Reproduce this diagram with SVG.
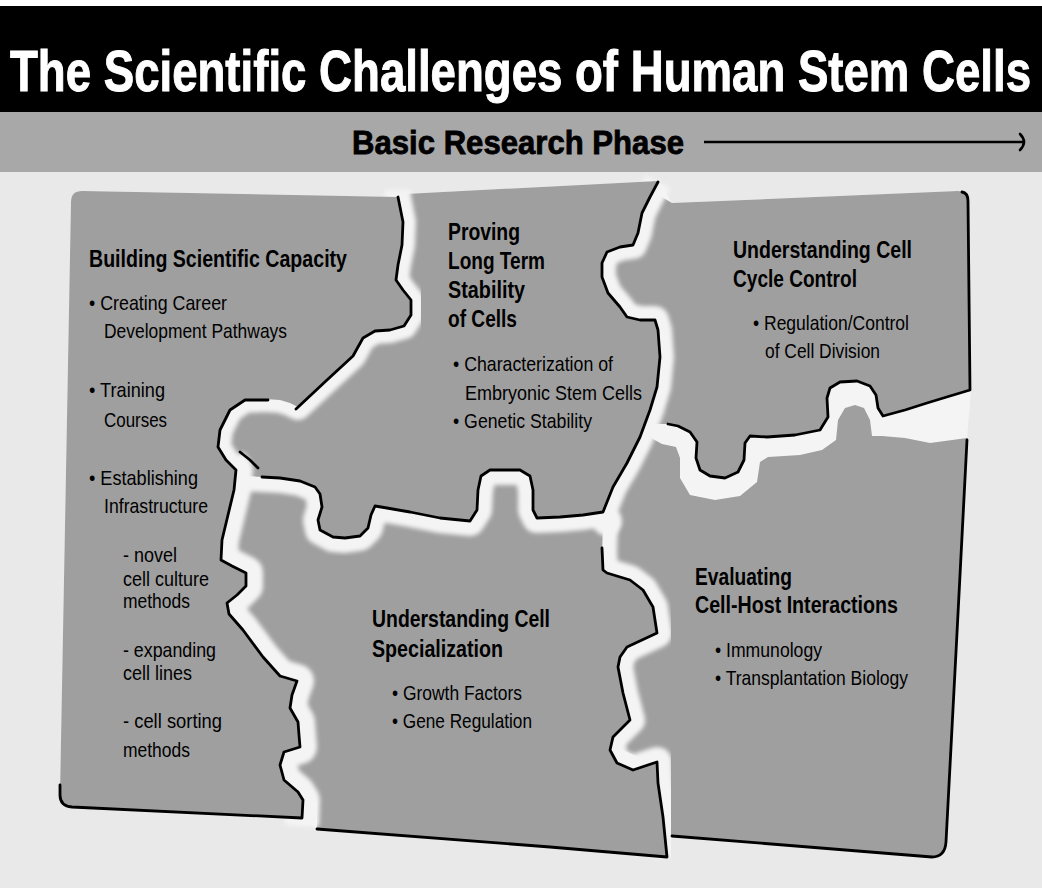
<svg xmlns="http://www.w3.org/2000/svg" width="1042" height="888" viewBox="0 0 1042 888">
<style>
.h{font-family:"Liberation Sans",Arial,sans-serif;font-weight:bold;font-size:23px;fill:#000}
.b{font-family:"Liberation Sans",Arial,sans-serif;font-size:21px;fill:#000}
.tile{fill:#9f9f9f}
.band{fill:none;stroke:#f4f4f4;stroke-linejoin:round;stroke-linecap:butt}
.edge{fill:none;stroke:#000;stroke-width:2.8;stroke-linejoin:round;stroke-linecap:round}
</style>
<defs>
<filter id="soft" x="-5%" y="-5%" width="110%" height="110%"><feGaussianBlur stdDeviation="2.2"/></filter>
</defs>
<rect x="0" y="0" width="1042" height="888" fill="#e9e9e9"/>
<rect x="0" y="0" width="1042" height="6" fill="#ffffff"/>
<rect x="0" y="6" width="1042" height="106" fill="#000"/>
<rect x="0" y="112" width="1042" height="60" fill="#a8a8a8"/>
<text transform="translate(10,91) scale(0.8,1)" x="0" y="0" style="font-family:'Liberation Sans',Arial,sans-serif;font-weight:bold;font-size:57px;fill:#fff;stroke:#fff;stroke-width:1">The Scientific Challenges of Human Stem Cells</text>
<text x="352" y="154" textLength="332" lengthAdjust="spacingAndGlyphs" style="font-family:'Liberation Sans',Arial,sans-serif;font-weight:bold;font-size:33px;fill:#000;stroke:#000;stroke-width:0.8">Basic Research Phase</text>
<g id="phase-arrow" fill="none" stroke="#000" stroke-width="2.6">
<path d="M704,142 L1024,142"/>
<path d="M1020,134 Q1028,142 1020,150" stroke-linecap="round"/>
</g>
<path id="board" d="M71,202 Q71,191 82,191 L398,197 L405,194 L658,181 L672,203 L958,191 Q968,191 968,201 L971,392 L967,438 L957,633 L946,842 Q945,857 932,857 L672,836 L667,857 L550,847 L317,829 L302,818 L72,807 Q60,806 60,795 Z" fill="#f4f4f4"/>

<g id="node-cell-host">
<path class="tile" d="M662,444 L676,447 L680,458 L680,478 L690,495 L715,500 L740,496 L757,482 L760,462 L768,457 L800,455 L822,450 L836,440 L838,420 L845,408 L855,405 L864,408 L870,420 L872,436 L882,436 L905,438 L930,443 L967,438 L957,633 L946,842 Q945,857 932,857 L672,836 L640,836 L640,800 L645,760 L600,740 L597,650 L625,620 L592,560 L595,520 L620,480 L640,432 Z"/>
<text class="h" x="695" y="585" textLength="97" lengthAdjust="spacingAndGlyphs">Evaluating</text>
<text class="h" x="695" y="613" textLength="203" lengthAdjust="spacingAndGlyphs">Cell-Host Interactions</text>
<text class="b" x="715" y="657" textLength="107" lengthAdjust="spacingAndGlyphs">• Immunology</text>
<text class="b" x="715" y="685" textLength="193" lengthAdjust="spacingAndGlyphs">• Transplantation Biology</text>
</g>

<g id="gap-de" filter="url(#soft)">
<path class="band" stroke-width="30" d="M603,520 L602,553 L603,570 L607,573 L630,580 L643,590 L653,607 L657,633 L627,647 L620,657 L618,667 L623,693 L630,720 L613,737 L610,750 L617,763 L633,770 L657,762 L658,783 L663,817 L667,857"/>
</g>

<g id="node-cell-cycle">
<path class="tile" d="M672,203 L958,191 Q968,191 968,201 L970,390 L950,396 L927,403 L905,410 L883,416 L878,408 L876,395 L870,386 L857,381 L840,382 L830,388 L827,398 L828,417 L820,430 L795,435 L767,437 L750,436 L745,443 L744,460 L738,472 L725,478 L710,476 L700,470 L696,458 L697,442 L690,432 L678,426 L668,424 L645,424 L650,330 L630,325 L598,290 L595,262 L615,243 L632,238 L640,205 L650,190 Z"/>
<text class="h" x="733" y="258" textLength="179" lengthAdjust="spacingAndGlyphs">Understanding Cell</text>
<text class="h" x="733" y="287" textLength="124" lengthAdjust="spacingAndGlyphs">Cycle Control</text>
<text class="b" x="753" y="330" textLength="156" lengthAdjust="spacingAndGlyphs">• Regulation/Control</text>
<text class="b" x="765" y="358" textLength="115" lengthAdjust="spacingAndGlyphs">of Cell Division</text>
</g>

<g id="node-specialization">
<path class="tile" d="M225,462 L600,462 L601,490 L603,527 L602,553 L603,570 L607,573 L630,580 L643,590 L653,607 L657,633 L627,647 L620,657 L618,667 L623,693 L630,720 L613,737 L610,750 L617,763 L633,770 L657,762 L658,783 L663,817 L667,857 L550,847 L317,829 L317,802 L290,800 L268,780 L268,752 L283,735 L278,705 L282,690 L255,670 L225,630 L212,605 L230,590 L212,570 L205,540 L210,500 L220,470 Z"/>
<text class="h" x="372" y="627" textLength="178" lengthAdjust="spacingAndGlyphs">Understanding Cell</text>
<text class="h" x="372" y="657" textLength="131" lengthAdjust="spacingAndGlyphs">Specialization</text>
<text class="b" x="392" y="700" textLength="130" lengthAdjust="spacingAndGlyphs">• Growth Factors</text>
<text class="b" x="392" y="728" textLength="140" lengthAdjust="spacingAndGlyphs">• Gene Regulation</text>
</g>

<g id="gap-bc-bd" filter="url(#soft)">
<path class="band" stroke-width="28" d="M658,182 L650,197 L642,213 L638,233 L633,245 L620,247 L607,252 L602,263 L602,277 L608,293 L620,307 L627,317 L640,320 L655,320 L658,330 L660,357 L657,387 L650,410 L640,437 L627,463 L613,487 L603,512"/>
<path class="band" stroke-width="30" d="M603,512 L583,515 L560,517 L537,518 L533,510 L533,490 L530,476 L520,470 L490,470 L481,476 L478,490 L477,510 L470,521 L440,518 L410,512 L387,508 L375,506 L371,515 L368,528 L360,536 L345,538 L333,537 L320,530 L318,520 L322,507 L320,494 L315,487 L300,481 L280,478 L262,477 L245,476"/>
<circle cx="607" cy="521" r="15" fill="#f4f4f4"/>
</g>

<g id="node-proving">
<path class="tile" d="M392,196 L405,194 L658,181 L650,197 L642,213 L638,233 L633,245 L620,247 L607,252 L602,263 L602,277 L608,293 L620,307 L627,317 L640,320 L655,320 L658,330 L660,357 L657,387 L650,410 L640,437 L627,463 L613,487 L603,512 L583,515 L560,517 L537,518 L533,510 L533,490 L530,476 L520,470 L490,470 L481,476 L478,490 L477,510 L470,521 L440,518 L410,512 L387,508 L375,506 L371,515 L368,528 L360,536 L345,538 L333,537 L320,530 L318,520 L322,507 L320,494 L315,487 L300,481 L280,478 L262,477 L248,476 L225,470 L210,440 L222,405 L250,392 L290,395 L345,350 L388,322 L390,280 Z"/>
<text class="h" x="448" y="240" textLength="72" lengthAdjust="spacingAndGlyphs">Proving</text>
<text class="h" x="448" y="269" textLength="97" lengthAdjust="spacingAndGlyphs">Long Term</text>
<text class="h" x="448" y="298" textLength="77" lengthAdjust="spacingAndGlyphs">Stability</text>
<text class="h" x="448" y="327" textLength="69" lengthAdjust="spacingAndGlyphs">of Cells</text>
<text class="b" x="453" y="371" textLength="160" lengthAdjust="spacingAndGlyphs">• Characterization of</text>
<text class="b" x="465" y="400" textLength="177" lengthAdjust="spacingAndGlyphs">Embryonic Stem Cells</text>
<text class="b" x="453" y="428" textLength="139" lengthAdjust="spacingAndGlyphs">• Genetic Stability</text>
</g>

<g id="gap-a" filter="url(#soft)">
<path class="band" stroke-width="26" d="M398,190 L398,197 L403,222 L402,245 L398,265 L396,280 L403,290 L411,300 L411,315 L404,326 L390,330 L375,331 L363,338 L353,356 L327,380 L298,407 L290,403 L280,400 L265,399 L245,400 L230,410 L220,430 L218,447 L226,460 L236,470"/>
<path class="band" stroke-width="34" d="M230,462 L236,470 L234,490 L228,515 L222,540 L221,560 L232,566 L246,573 L246,586 L237,595 L227,603 L229,614 L243,630 L263,657 L280,676 L297,681 L292,695 L290,708 L298,722 L299,735 L300,747 L284,752 L280,765 L284,780 L298,792 L303,800 L302,826"/>
</g>

<g id="node-building">
<path class="tile" d="M82,191 L398,197 L403,222 L402,245 L398,265 L396,280 L403,290 L411,300 L411,315 L404,326 L390,330 L375,331 L363,338 L353,356 L327,380 L298,407 L290,403 L280,400 L265,399 L245,400 L230,410 L220,430 L218,447 L226,460 L236,470 L234,490 L228,515 L222,540 L221,560 L232,566 L246,573 L246,586 L237,595 L227,603 L229,614 L243,630 L263,657 L280,676 L297,681 L292,695 L290,708 L298,722 L299,735 L300,747 L284,752 L280,765 L284,780 L298,792 L303,800 L302,818 L72,807 Q60,806 60,795 L71,202 Q71,191 82,191 Z"/>
<text class="h" x="89" y="267" textLength="258" lengthAdjust="spacingAndGlyphs">Building Scientific Capacity</text>
<text class="b" x="89" y="310" textLength="138" lengthAdjust="spacingAndGlyphs">• Creating Career</text>
<text class="b" x="104" y="338" textLength="183" lengthAdjust="spacingAndGlyphs">Development Pathways</text>
<text class="b" x="89" y="397" textLength="76" lengthAdjust="spacingAndGlyphs">• Training</text>
<text class="b" x="104" y="427" textLength="63" lengthAdjust="spacingAndGlyphs">Courses</text>
<text class="b" x="89" y="485" textLength="109" lengthAdjust="spacingAndGlyphs">• Establishing</text>
<text class="b" x="104" y="513" textLength="104" lengthAdjust="spacingAndGlyphs">Infrastructure</text>
<text class="b" x="123" y="562" textLength="54" lengthAdjust="spacingAndGlyphs">- novel</text>
<text class="b" x="123" y="586" textLength="86" lengthAdjust="spacingAndGlyphs">cell culture</text>
<text class="b" x="123" y="608" textLength="67" lengthAdjust="spacingAndGlyphs">methods</text>
<text class="b" x="123" y="657" textLength="93" lengthAdjust="spacingAndGlyphs">- expanding</text>
<text class="b" x="123" y="680" textLength="69" lengthAdjust="spacingAndGlyphs">cell lines</text>
<text class="b" x="123" y="728" textLength="99" lengthAdjust="spacingAndGlyphs">- cell sorting</text>
<text class="b" x="123" y="757" textLength="67" lengthAdjust="spacingAndGlyphs">methods</text>
</g>

<g id="connectors">
<path class="edge" d="M398,197 L403,222 L402,245 L398,265 L396,280 L403,290 L411,300 L411,315 L404,326 L390,330 L375,331 L363,338 L353,356 L327,380 L296,409"/>
<path class="edge" d="M268,400 L245,400 L230,410 L220,430 L218,447 L226,460 L236,470 L234,490 L228,515 L222,540 L221,560 L232,566 L246,573 L246,586 L237,595 L227,603 L229,614 L243,630 L263,657 L280,676 L297,681 L292,695 L290,708 L298,722 L299,735 L300,747 L284,752 L280,765 L284,780 L298,792 L303,800 L302,818 L72,807 Q60,806 60,795 L60,785"/>
<path class="edge" d="M240,452 L250,460 L258,468"/>
<path class="edge" d="M658,182 L650,197 L642,213 L638,233 L633,245 L620,247 L607,252 L602,263 L602,277 L608,293 L620,307 L627,317 L640,320 L655,320 L658,330 L660,357 L657,387 L650,410 L640,437 L627,463 L613,487 L603,512 L583,515 L560,517 L537,518 L533,510 L533,490 L530,476 L520,470 L490,470 L481,476 L478,490 L477,510 L470,521 L440,518 L410,512 L387,508 L375,506 L371,515 L368,528 L360,536 L345,538 L333,537 L320,530 L318,520 L322,507 L320,494 L315,487 L300,481 L280,478 L262,477"/>
<path class="edge" d="M962,192 Q968,193 968,201 L970,390 L950,396 L927,403 L905,410 L883,416 L878,408 L876,395 L870,386 L857,381 L840,382 L830,388 L827,398 L828,417 L820,430 L795,435 L767,437 L750,436 L745,443 L744,460 L738,472 L725,478 L710,476 L700,470 L696,458 L697,442 L690,432 L678,426 L668,424"/>
<path class="edge" d="M602,548 L603,570 L607,573 L630,580 L643,590 L653,607 L657,633 L627,647 L620,657 L618,667 L623,693 L630,720 L613,737 L610,750 L617,763 L633,770 L657,762 L658,783 L663,817 L667,857 L550,847 L317,829"/>
<path class="edge" d="M967,440 L957,633 L946,842 Q945,857 932,857 L672,836"/>
</g>
</svg>
